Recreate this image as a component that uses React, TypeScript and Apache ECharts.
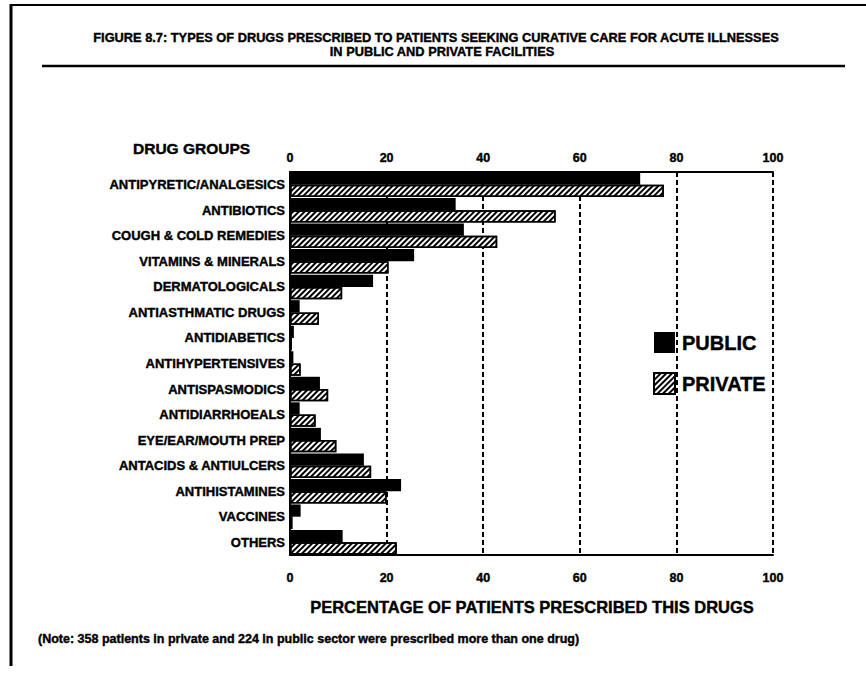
import React, { useEffect, useRef } from "react";
import * as echarts from "echarts";

const categories = [
  "ANTIPYRETIC/ANALGESICS",
  "ANTIBIOTICS",
  "COUGH & COLD REMEDIES",
  "VITAMINS & MINERALS",
  "DERMATOLOGICALS",
  "ANTIASTHMATIC DRUGS",
  "ANTIDIABETICS",
  "ANTIHYPERTENSIVES",
  "ANTISPASMODICS",
  "ANTIDIARRHOEALS",
  "EYE/EAR/MOUTH PREP",
  "ANTACIDS & ANTIULCERS",
  "ANTIHISTAMINES",
  "VACCINES",
  "OTHERS",
];
const publicValues = [72.5, 34.3, 36.0, 25.7, 17.2, 2.0, 0.8, 0.7, 6.2, 2.0, 6.4, 15.3, 23.0, 2.2, 10.9];
const privateValues = [77.4, 55.0, 42.9, 20.4, 10.8, 6.0, 0.4, 2.2, 7.9, 5.3, 9.6, 16.8, 20.0, 0.5, 22.1];
const seriesNames = ["PUBLIC", "PRIVATE"];
const titleLines = [
  "FIGURE 8.7: TYPES OF DRUGS PRESCRIBED TO PATIENTS SEEKING CURATIVE CARE FOR ACUTE ILLNESSES",
  "IN PUBLIC AND PRIVATE FACILITIES",
];
const yAxisTitle = "DRUG GROUPS";
const xAxisTitle = "PERCENTAGE OF PATIENTS PRESCRIBED THIS DRUGS";
const noteText =
  "(Note: 358 patients in private and 224 in public sector were prescribed more than one drug)";

const FONT = "'Liberation Sans', Arial, Helvetica, sans-serif";

export default function App() {
  const ref = useRef<HTMLDivElement>(null);
  useEffect(() => {
    if (!ref.current) return;
    const chart = echarts.init(ref.current, null, { renderer: "svg" });
    const hatch = {
      symbol: "rect",
      symbolSize: 1,
      rotation: -Math.PI / 4,
      dashArrayX: [1, 0],
      dashArrayY: [1.2, 2],
      color: "#000",
      backgroundColor: "#fff",
    };
    const heavy = { textBorderColor: "#000", textBorderWidth: 0.4 };
    const axisLabelStyle = {
      color: "#000",
      fontFamily: FONT,
      fontWeight: "bold" as const,
      fontSize: 12.5,
      ...heavy,
    };
    const textStyle = (text: string, size: number, align: string) => ({
      text,
      fill: "#000",
      font: `bold ${size}px ${FONT}`,
      textAlign: align,
      textVerticalAlign: "middle",
      stroke: "#000",
      lineWidth: 0.4,
    });
    chart.setOption({
      animation: false,
      backgroundColor: "#fff",
      textStyle: { fontFamily: FONT },
      grid: { left: 290, right: 93, top: 172, bottom: 119, containLabel: false },
      legend: {
        data: seriesNames,
        orient: "vertical",
        left: 653,
        top: 332,
        padding: 0,
        itemWidth: 21,
        itemHeight: 21,
        itemGap: 19,
        icon: "rect",
        textStyle: {
          color: "#000",
          fontFamily: FONT,
          fontWeight: "bold",
          fontSize: 20,
          padding: [0, 0, 0, 2],
          ...heavy,
        },
      },
      xAxis: [
        {
          type: "value",
          min: 0,
          max: 100,
          interval: 20,
          position: "bottom",
          axisLine: { show: true, lineStyle: { color: "#000", width: 2 } },
          axisTick: { show: false },
          axisLabel: { ...axisLabelStyle, margin: 16 },
          splitLine: { show: true, lineStyle: { color: "#000", width: 2, type: [5, 3] } },
        },
        {
          type: "value",
          min: 0,
          max: 100,
          interval: 20,
          position: "top",
          axisLine: { show: true, lineStyle: { color: "#000", width: 2 } },
          axisTick: { show: false },
          axisLabel: { ...axisLabelStyle, margin: 8 },
          splitLine: { show: false },
        },
      ],
      yAxis: {
        type: "category",
        data: categories,
        inverse: true,
        axisLine: { show: true, lineStyle: { color: "#000", width: 2 } },
        axisTick: { show: false },
        axisLabel: { ...axisLabelStyle, fontSize: 13, margin: 5 },
      },
      series: [
        {
          name: seriesNames[0],
          type: "bar",
          data: publicValues,
          barCategoryGap: "4%",
          barGap: "0%",
          itemStyle: { color: "#000" },
        },
        {
          name: seriesNames[1],
          type: "bar",
          data: privateValues,
          barCategoryGap: "4%",
          barGap: "0%",
          itemStyle: { color: "#fff", borderColor: "#000", borderWidth: 1.5, decal: hatch },
        },
      ],
      graphic: [
        { type: "line", shape: { x1: 11, y1: 4, x2: 11, y2: 666 }, style: { stroke: "#000", lineWidth: 3 } },
        { type: "line", shape: { x1: 10, y1: 5, x2: 866, y2: 5 }, style: { stroke: "#000", lineWidth: 2 } },
        { type: "line", shape: { x1: 42, y1: 66, x2: 845, y2: 66 }, style: { stroke: "#000", lineWidth: 2.5 } },
        { type: "text", x: 436, y: 37, style: textStyle(titleLines[0], 12.8, "center") },
        { type: "text", x: 442, y: 51, style: textStyle(titleLines[1], 12.8, "center") },
        { type: "text", x: 133, y: 148, style: textStyle(yAxisTitle, 15.5, "left") },
        { type: "text", x: 532, y: 607, style: textStyle(xAxisTitle, 16.5, "center") },
        { type: "text", x: 38, y: 639, style: textStyle(noteText, 12.5, "left") },
      ],
    });
    return () => chart.dispose();
  }, []);
  return (
    <div
      ref={ref}
      style={{ position: "fixed", left: 0, top: 0, width: 866, height: 674, background: "#fff" }}
    />
  );
}
